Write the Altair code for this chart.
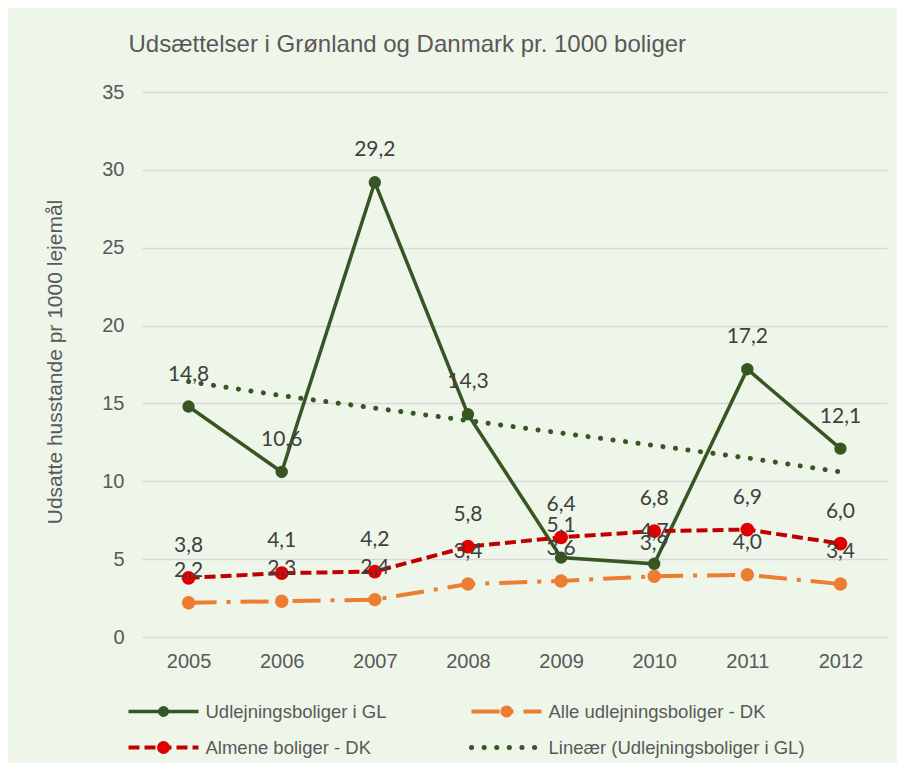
import altair as alt
import pandas as pd

years = ["2005", "2006", "2007", "2008", "2009", "2010", "2011", "2012"]
gl = [14.8, 10.6, 29.2, 14.3, 5.1, 4.7, 17.2, 12.1]
dk_all = [2.2, 2.3, 2.4, 3.4, 3.6, 3.9, 4.0, 3.4]
almene = [3.8, 4.1, 4.2, 5.8, 6.4, 6.8, 6.9, 6.0]
trend = [16.4, 15.5, 14.7, 13.9, 13.1, 12.3, 11.5, 10.6]

names = [
    "Udlejningsboliger i GL",
    "Alle udlejningsboliger - DK",
    "Almene boliger - DK",
    "Lineær (Udlejningsboliger i GL)",
]

GREEN = "#375623"
ORANGE = "#ED7D31"
RED_LINE = "#C00000"
RED_PT = "#E00000"
TXT = "#595959"
LBL = "#404040"

W, H = 745, 545


def frame(vals, name):
    return pd.DataFrame({
        "year": years,
        "value": vals,
        "series": name,
        "label": [f"{v:.1f}".replace(".", ",") for v in vals],
    })


x_enc = alt.X(
    "year:O",
    scale=alt.Scale(type="point", padding=0.5),
    axis=alt.Axis(
        title=None, labelAngle=0, ticks=False, domain=False, grid=False,
        labelFontSize=20, labelColor=TXT, labelPadding=14, labelFont="Liberation Sans",
    ),
)
y_enc = alt.Y(
    "value:Q",
    scale=alt.Scale(domain=[0, 35], nice=False),
    axis=alt.Axis(
        values=[0, 5, 10, 15, 20, 25, 30, 35],
        grid=True, gridColor="#D9D9D9", gridWidth=1.5,
        domain=False, ticks=False, labelPadding=18,
        labelFontSize=20, labelColor=TXT, labelFont="Liberation Sans",
        title="Udsatte husstande pr 1000 lejemål",
        titleFontSize=21, titleFontWeight="normal", titleColor=TXT,
        titleFont="Liberation Sans", titleX=-87, titleY=H / 2 - 3,
        titleAngle=270, titleAlign="center", titleBaseline="middle",
    ),
)

d_gl = frame(gl, names[0])
d_all = frame(dk_all, names[1])
d_alm = frame(almene, names[2])
d_tr = frame(trend, names[3])

layers = []
# trend line (drawn first, behind)
layers.append(alt.Chart(d_tr).mark_line(
    color=GREEN, strokeWidth=5, strokeDash=[0.1, 12.5], strokeCap="round"
).encode(x=x_enc, y=y_enc))
# orange
layers.append(alt.Chart(d_all).mark_line(
    color=ORANGE, strokeWidth=4, strokeDash=[28, 10, 4, 10]
).encode(x=x_enc, y=y_enc))
layers.append(alt.Chart(d_all).mark_circle(size=180, color=ORANGE, opacity=1).encode(x=x_enc, y=y_enc))
# GL
layers.append(alt.Chart(d_gl).mark_line(color=GREEN, strokeWidth=3.5).encode(x=x_enc, y=y_enc))
layers.append(alt.Chart(d_gl).mark_circle(size=154, color=GREEN, opacity=1).encode(x=x_enc, y=y_enc))
# red
layers.append(alt.Chart(d_alm).mark_line(
    color=RED_LINE, strokeWidth=4, strokeDash=[11, 5]
).encode(x=x_enc, y=y_enc))
layers.append(alt.Chart(d_alm).mark_circle(size=190, color=RED_PT, opacity=1).encode(x=x_enc, y=y_enc))

# data labels
for d in (d_gl, d_all, d_alm):
    layers.append(alt.Chart(d).mark_text(
        font="Lato", fontSize=21, color=LBL, dy=-32, baseline="middle", align="center"
    ).encode(x=x_enc, y=y_enc, text="label:N"))

# legend (manual, below plot)
col_x = [-13.5, 329.5]
row_y = [619.5, 655.5]
sym_len = 70
leg_styles = [
    dict(color=GREEN, strokeWidth=3.5, dash=None, pt=GREEN, ptsize=120),
    dict(color=ORANGE, strokeWidth=4, dash=[28, 10, 4, 10], pt=ORANGE, ptsize=150),
    dict(color=RED_LINE, strokeWidth=4, dash=[11, 5], pt=RED_PT, ptsize=170),
    dict(color=GREEN, strokeWidth=5, dash=[0.1, 12.5], pt=None, ptsize=0),
]
positions = [(0, 0), (1, 0), (0, 1), (1, 1)]
for name, st, (c, r) in zip(names, leg_styles, positions):
    one = pd.DataFrame({"series": [name]})
    x0 = col_x[c]
    yy = row_y[r]
    rule_kw = dict(color=st["color"], strokeWidth=st["strokeWidth"])
    if st["dash"] is not None:
        rule_kw["strokeDash"] = st["dash"]
    if st["pt"] is None:
        rule_kw["strokeCap"] = "round"
    layers.append(alt.Chart(one).mark_rule(**rule_kw).encode(
        x=alt.value(x0), x2=alt.value(x0 + sym_len), y=alt.value(yy)))
    if st["pt"] is not None:
        layers.append(alt.Chart(one).mark_circle(size=st["ptsize"], color=st["pt"], opacity=1).encode(
            x=alt.value(x0 + sym_len / 2), y=alt.value(yy)))
    layers.append(alt.Chart(one).mark_text(
        align="left", baseline="middle", font="Liberation Sans", fontSize=18.5, color=TXT
    ).encode(x=alt.value(x0 + sym_len + 7), y=alt.value(yy), text="series:N"))

chart = alt.layer(*layers).properties(
    width=W,
    height=H,
    title=alt.TitleParams(
        text="Udsættelser i Grønland og Danmark pr. 1000 boliger",
        anchor="start", frame="group", dx=-13.5, offset=25,
        fontSize=24, font="Liberation Sans", fontWeight="normal", color=TXT,
    ),
    padding={"left": 134, "top": 84, "right": 10, "bottom": 126},
    autosize=alt.AutoSizeParams(type="none"),
).configure(
    background="#EEF6EA",
).configure_view(stroke=None)

chart.save("out.html", embed_options={"renderer": "svg", "actions": False})
